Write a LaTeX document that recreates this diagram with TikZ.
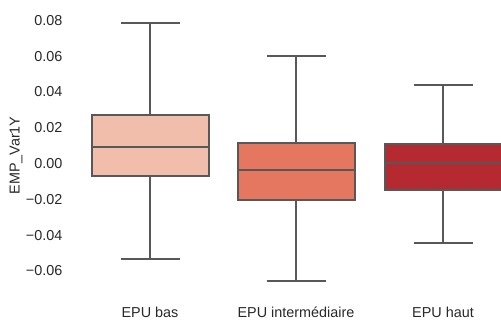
\documentclass[tikz,border=0pt]{standalone}
\usepackage{fontspec}
\setmainfont{Liberation Sans}
\definecolor{boxA}{RGB}{240,190,170}
\definecolor{boxB}{RGB}{229,118,96}
\definecolor{boxC}{RGB}{180,42,48}
\definecolor{lineg}{RGB}{88,88,88}
\definecolor{tickg}{RGB}{40,40,40}
\newcommand{\myboxplot}[8]{%
  % #1 name, #2 cx, #3 q3(top px), #4 median, #5 q1(bottom px), #6 upper cap, #7 lower cap, #8 colour
  \node[boxshape, fill=#8, minimum height={(#5)-(#3)}, anchor=north] (#1box) at (#2,#3) {};
  \draw[bpline] (#1box.west |- 0,#4) -- (#1box.east |- 0,#4);
  \coordinate (#1hi) at (#2,#6);
  \coordinate (#1lo) at (#2,#7);
  \draw[bpline] (#1box.north) -- (#1hi);
  \draw[bpline] (#1box.south) -- (#1lo);
  \draw[bpline] ([xshift=-29.5pt]#1hi) -- ([xshift=29.5pt]#1hi);
  \draw[bpline] ([xshift=-29.5pt]#1lo) -- ([xshift=29.5pt]#1lo);
}
\begin{document}
\begin{tikzpicture}[x=1pt,y=-1pt,
  font=\fontsize{14.4}{17}\selectfont,
  bpline/.style={draw=lineg, line width=2pt},
  boxshape/.style={draw=lineg, line width=2pt, rectangle, minimum width=117pt, inner sep=0pt, outer sep=0pt},
  ticklab/.style={anchor=east, text=tickg, inner sep=0pt},
  catlab/.style={anchor=center, text=tickg, inner sep=0pt}]
\useasboundingbox (0,0) rectangle (501,323);
% y tick labels
\node[ticklab] (t08) at (62.5,20.3) {0.08};
\node[ticklab] (t06) at (62.5,56.1) {0.06};
\node[ticklab] (t04) at (62.5,91.9) {0.04};
\node[ticklab] (t02) at (62.5,127.7) {0.02};
\node[ticklab] (t00) at (62.5,163.5) {0.00};
\node[ticklab] (tm02) at (62.5,199.3) {−0.02};
\node[ticklab] (tm04) at (62.5,235.1) {−0.04};
\node[ticklab] (tm06) at (62.5,270.9) {−0.06};
\node[rotate=90, text=tickg, inner sep=0pt] (ylab) at (16,155.5) {EMP\_Var1Y};
% boxes
\myboxplot{a}{150}{115}{147}{176}{23}{259}{boxA}
\myboxplot{b}{296}{143}{170}{200}{56}{281}{boxB}
\myboxplot{c}{443}{144}{163}{190}{85}{243}{boxC}
% category labels
\node[catlab] (la) at (150,312.5) {EPU bas};
\node[catlab] (lb) at (296,312.5) {EPU intermédiaire};
\node[catlab] (lc) at (443,312.5) {EPU haut};
\end{tikzpicture}
\end{document}
